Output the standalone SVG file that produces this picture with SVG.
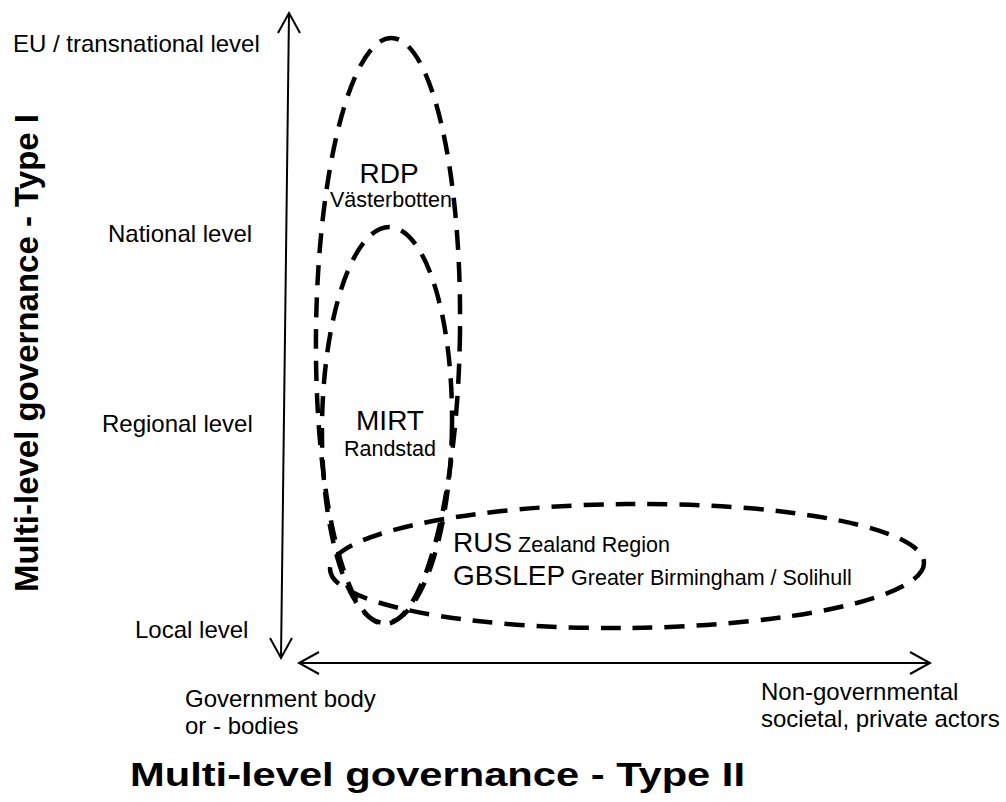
<svg xmlns="http://www.w3.org/2000/svg" width="1006" height="802" viewBox="0 0 1006 802">
<style>
text{font-family:"Liberation Sans",Arial,sans-serif;fill:#000}
.lv{font-size:24px}
.big{font-size:28px}
.sm{font-size:21.5px}
.ttl{font-size:33px;font-weight:bold}
.ax{stroke:#000;stroke-width:2;fill:none}
.ah{stroke:#000;stroke-width:2;fill:none}
.el{stroke:#000;stroke-width:4.5;fill:none;stroke-dasharray:20 12}
</style>
<rect width="1006" height="802" fill="#fff"/>
<g id="connectors">
<line class="ax" x1="289" y1="13" x2="281" y2="658"/>
<polyline class="ah" points="278,33 289,13 300,33"/>
<polyline class="ah" points="270,638 281,658 292,638"/>
<line class="ax" x1="299" y1="663" x2="930" y2="663"/>
<polyline class="ah" points="319,652 299,663 319,674"/>
<polyline class="ah" points="910,652 930,663 910,674"/>
</g>
<g id="rdp">
<ellipse class="el" cx="388" cy="331" rx="72" ry="293" transform="rotate(0.7 388 331)"/>
<text class="big" x="389" y="183" text-anchor="middle">RDP</text>
<text class="sm" x="391" y="207" text-anchor="middle">Västerbotten</text>
</g>
<g id="mirt">
<ellipse class="el" cx="387" cy="425" rx="65" ry="198" transform="rotate(0.7 387 425)"/>
<text class="big" x="390" y="430" text-anchor="middle">MIRT</text>
<text class="sm" x="390" y="456" text-anchor="middle">Randstad</text>
</g>
<g id="rus">
<ellipse class="el" cx="627" cy="566" rx="297" ry="62" transform="rotate(-0.6 627 566)"/>
<text x="453" y="552"><tspan class="big">RUS</tspan><tspan class="sm"> Zealand Region</tspan></text>
<text x="453" y="585"><tspan class="big">GBSLEP</tspan><tspan class="sm"> Greater Birmingham / Solihull</tspan></text>
</g>
<g id="levels">
<text class="lv" x="13" y="52">EU / transnational level</text>
<text class="lv" x="108" y="242">National level</text>
<text class="lv" x="102" y="432">Regional level</text>
<text class="lv" x="135" y="638">Local level</text>
</g>
<g id="xlabels">
<text class="lv" x="185" y="707">Government body</text>
<text class="lv" x="185" y="734">or - bodies</text>
<text class="lv" x="761" y="700">Non-governmental</text>
<text class="lv" x="761" y="727">societal, private actors</text>
</g>
<g id="titles">
<text class="ttl" transform="translate(38,353) rotate(-90)" text-anchor="middle">Multi-level governance - Type I</text>
<text class="ttl" x="130" y="786" textLength="615" lengthAdjust="spacingAndGlyphs">Multi-level governance - Type II</text>
</g>
</svg>
